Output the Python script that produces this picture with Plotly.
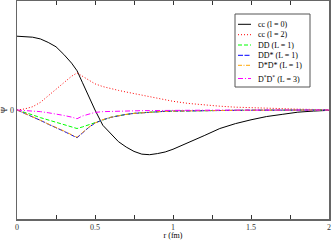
import plotly.graph_objects as go

r = [0, 0.05, 0.1, 0.15, 0.2, 0.25, 0.3, 0.35, 0.385, 0.42, 0.46, 0.5, 0.55, 0.6, 0.65, 0.7, 0.75, 0.8, 0.85, 0.9, 0.95,
     1.0, 1.1, 1.2, 1.3, 1.4, 1.5, 1.6, 1.7, 1.8, 1.9, 2.0]

cc_l0 = [0.677, 0.674, 0.668, 0.652, 0.62, 0.58, 0.51, 0.43, 0.36, 0.25, 0.12, 0.0, -0.14, -0.22, -0.29, -0.34, -0.38, -0.405,
         -0.41, -0.40, -0.385, -0.36, -0.30, -0.235, -0.17, -0.125, -0.09, -0.06, -0.04, -0.02, -0.01, -0.003]
cc_l2 = [0.0, 0.01, 0.03, 0.07, 0.13, 0.19, 0.25, 0.31, 0.34, 0.31, 0.27, 0.24, 0.215, 0.195, 0.18, 0.165, 0.15, 0.135,
         0.12, 0.105, 0.092, 0.08, 0.06, 0.045, 0.035, 0.026, 0.02, 0.015, 0.011, 0.008, 0.005, 0.003]
dd_L1 = [0.0, -0.02, -0.045, -0.07, -0.09, -0.115, -0.135, -0.155, -0.17, -0.155, -0.135, -0.115, -0.09, -0.068, -0.052,
         -0.04, -0.031, -0.025, -0.019, -0.015, -0.012, -0.01, -0.007, -0.005, -0.004, -0.003, -0.002, -0.001, -0.001, 0.0, 0.0, 0.0]
dds_L1 = [0.0, -0.03, -0.065, -0.095, -0.13, -0.16, -0.195, -0.23, -0.255, -0.21, -0.16, -0.12, -0.09, -0.068, -0.052,
          -0.04, -0.031, -0.025, -0.019, -0.015, -0.012, -0.01, -0.007, -0.005, -0.004, -0.003, -0.002, -0.001, -0.001, 0.0, 0.0, 0.0]
dsds_L1 = [0.0, -0.03, -0.064, -0.094, -0.128, -0.158, -0.192, -0.227, -0.25, -0.207, -0.158, -0.119, -0.089, -0.067, -0.051,
           -0.04, -0.031, -0.025, -0.019, -0.015, -0.012, -0.01, -0.007, -0.005, -0.004, -0.003, -0.002, -0.001, -0.001, 0.0, 0.0, 0.0]
dsds_L3 = [0.0, -0.003, -0.008, -0.015, -0.025, -0.035, -0.05, -0.065, -0.08, -0.055, -0.035, -0.022, -0.015, -0.012, -0.01,
           -0.008, -0.007, -0.006, -0.005, -0.004, -0.004, -0.003, -0.002, -0.002, -0.001, -0.001, -0.001, 0.0, 0.0, 0.0, 0.0, 0.0]

names = ["cc (l = 0)", "cc (l = 2)", "DD (L = 1)", "DD* (L = 1)", "D*D* (L = 1)", "D<sup>*</sup>D<sup>*</sup> (L = 3)"]
series = [cc_l0, cc_l2, dd_L1, dds_L1, dsds_L1, dsds_L3]
colors = ["#000000", "#ff0000", "#00ff00", "#0000ff", "#ffa500", "#ff00ff"]
dashes = ["solid", "1px,2px", "4px,2px", "5px,1.5px", "4px,1.5px,1px,1.5px", "5px,2px,1px,2px"]

x_ticks = [0, 0.5, 1, 1.5, 2]
x_ticktext = ["0", "0.5", "1", "1.5", "2"]

font = "Liberation Serif"
W, H = 332, 240
ML, MR, MT, MB = 17, 3, 1, 21
PW, PH = W - ML - MR, H - MT - MB


def px(x):
    return (x - ML) / PW


def py(y):
    return (H - MB - y) / PH


fig = go.Figure()
for name, ys, c, d in zip(names, series, colors, dashes):
    fig.add_trace(go.Scatter(x=r, y=ys, mode="lines", name=name, showlegend=False,
                             line=dict(color=c, dash=d, width=1)))

# custom compact legend (box, samples, labels)
shapes = [dict(type="rect", xref="paper", yref="paper",
               x0=px(235), x1=px(310), y0=py(87), y1=py(14),
               line=dict(color="#555", width=1), fillcolor="white", layer="above")]
annotations = []
legend_y = [24.3, 34.7, 45.0, 55.3, 65.3, 78.5]
for name, c, d, ly in zip(names, colors, dashes, legend_y):
    shapes.append(dict(type="line", xref="paper", yref="paper",
                       x0=px(238), x1=px(251), y0=py(ly), y1=py(ly),
                       line=dict(color=c, dash=d, width=1), layer="above"))
    annotations.append(dict(text=name, xref="paper", yref="paper", x=px(256), y=py(ly),
                            xanchor="left", yanchor="middle", showarrow=False,
                            font=dict(family=font, size=8, color="#000")))

fig.update_layout(
    width=W, height=H,
    margin=dict(l=ML, r=MR, t=MT, b=MB, autoexpand=False),
    paper_bgcolor="white", plot_bgcolor="white",
    font=dict(family=font, size=8, color="#000"),
    showlegend=False,
    shapes=shapes,
    annotations=annotations,
    xaxis=dict(range=[0, 2], tickvals=x_ticks, ticktext=x_ticktext, automargin=False,
               ticks="inside", ticklen=4, tickcolor="#333", mirror="ticks",
               showline=True, linecolor="#666", linewidth=1.5,
               showgrid=False, zeroline=False,
               minor=dict(ticks="inside", ticklen=4, tickcolor="#333", dtick=0.25),
               title=dict(text="r (fm)", font=dict(family=font, size=8), standoff=1),
               tickfont=dict(family=font, size=8, color="#333")),
    yaxis=dict(range=[-1, 1], tickvals=[0], ticktext=["0"], ticks="", automargin=False,
               showline=True, linecolor="#666", linewidth=1.5, mirror=True,
               showgrid=False, zeroline=False,
               title=dict(text="Ψ", font=dict(family=font, size=8), standoff=1),
               tickfont=dict(family=font, size=8, color="#333")),
)

fig.write_html("out.html", config={"staticPlot": True, "displayModeBar": False},
               post_script="document.body.style.margin='0';")
